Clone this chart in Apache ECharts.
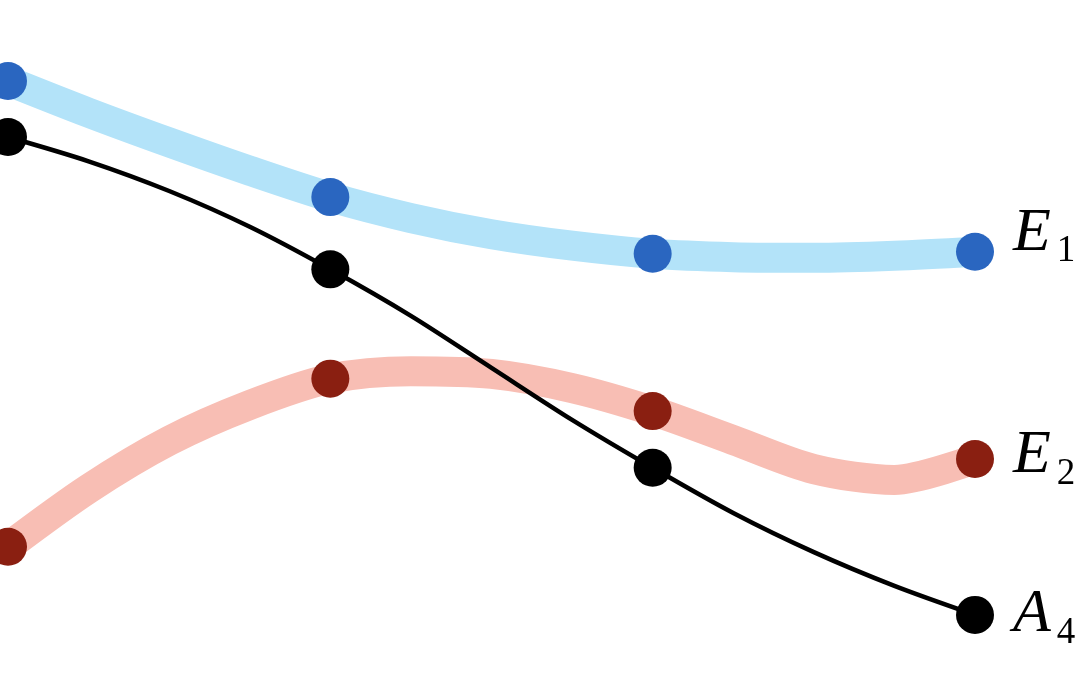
<!DOCTYPE html>
<html><head><meta charset="utf-8">
<script src="https://cdn.jsdelivr.net/npm/echarts@6/dist/echarts.min.js"></script>
<style>html,body{margin:0;padding:0;background:#fff}#c{width:1080px;height:675px}</style>
</head><body><div id="c"></div>
<script>
// x positions of the curve samples (markers sit at 0,1,2,3)
const xs = [0, 0.25, 0.5, 0.75, 1, 1.25, 1.5, 1.75, 2, 2.25, 2.5, 2.75, 3];
const e1Values = [8.80, 8.33, 7.89, 7.47, 7.08, 6.77, 6.53, 6.36, 6.24, 6.19, 6.18, 6.21, 6.27];
const e2Values = [1.90, 2.76, 3.47, 4.00, 4.39, 4.50, 4.46, 4.25, 3.91, 3.48, 3.05, 2.89, 3.20];
const a4Values = [7.97, 7.61, 7.17, 6.64, 6.01, 5.32, 4.55, 3.78, 3.07, 2.40, 1.82, 1.32, 0.89];
const labelMain = ['E', 'E', 'A'];
const labelSub = ['1', '2', '4'];

const chart = echarts.init(document.getElementById('c'));
function pairs(vals) { return xs.map((x, i) => [x, vals[i]]); }
function endLabel(i, dy) {
  return {
    show: true,
    distance: 38,
    offset: [0, dy],
    formatter: () => '{m|' + labelMain[i] + '}{s|' + labelSub[i] + '}',
    rich: {
      m: { fontFamily: 'Liberation Serif', fontStyle: 'italic', fontSize: 62, color: '#000' },
      s: { fontFamily: 'Liberation Serif', fontSize: 37, color: '#000', padding: [36, 0, 0, 6] }
    }
  };
}
function mk(i, vals, lineColor, lineWidth, dotColor, dy) {
  return {
    type: 'line', data: pairs(vals), smooth: 0.3,
    symbol: (v) => (Math.abs(v[0] - Math.round(v[0])) < 1e-6 ? 'circle' : 'none'),
    symbolSize: 38,
    lineStyle: { color: lineColor, width: lineWidth, cap: 'round', join: 'round' },
    itemStyle: { color: dotColor },
    endLabel: endLabel(i, dy),
    animation: false
  };
}
chart.setOption({
  animation: false,
  grid: { left: 8, right: 105, top: 0, bottom: 0, containLabel: false },
  xAxis: { type: 'value', min: 0, max: 3, show: false },
  yAxis: { type: 'value', min: 0, max: 10, show: false },
  series: [
    mk(0, e1Values, '#b3e3f9', 30, '#2a66c0', -18),
    mk(1, e2Values, '#f8beb4', 30, '#8a1f11', -3),
    mk(2, a4Values, '#000000', 4.5, '#000000', 0)
  ]
});
</script></body></html>
